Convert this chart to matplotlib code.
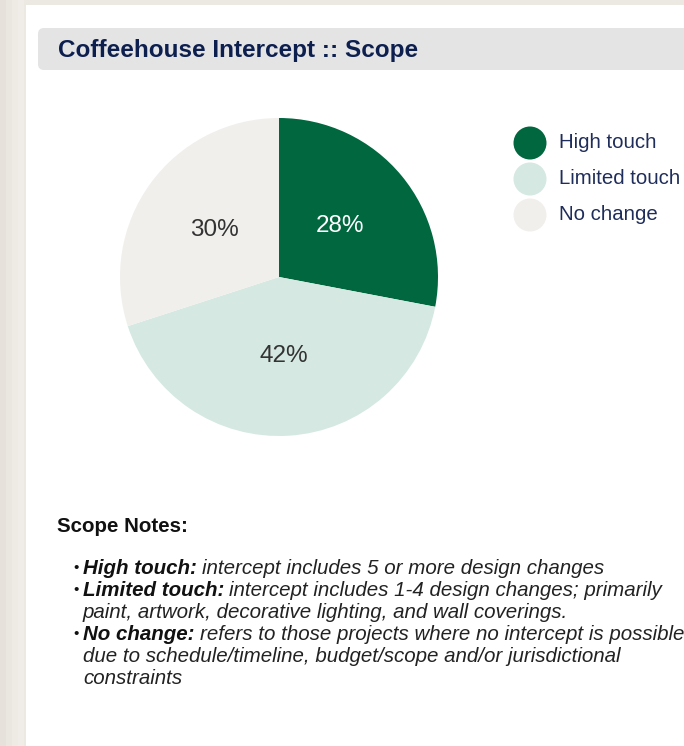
import matplotlib
matplotlib.use('Agg')
import matplotlib.pyplot as plt
from matplotlib.patches import Rectangle, FancyBboxPatch, Circle

plt.rcParams['font.family'] = ['Liberation Sans', 'DejaVu Sans']

# data
categories = ["High touch", "Limited touch", "No change"]
shares = [28, 42, 30]
colors = ["#00673F", "#D5E8E2", "#F1EFEB"]
label_colors = ["white", "#333333", "#333333"]

title = "Coffeehouse Intercept :: Scope"
notes_title = "Scope Notes:"
notes = [
    ("High touch:", ["intercept includes 5 or more design changes"]),
    ("Limited touch:", ["intercept includes 1-4 design changes; primarily",
                        "paint, artwork, decorative lighting, and wall coverings."]),
    ("No change:", ["refers to those projects where no intercept is possible",
                    "due to schedule/timeline, budget/scope and/or jurisdictional",
                    "constraints"]),
]

W, H = 684, 746
fig = plt.figure(figsize=(W / 100, H / 100), dpi=100)
fig.patch.set_facecolor("#ECE8E2")

# background axes in pixel coordinates
bg = fig.add_axes([0, 0, 1, 1])
bg.set_xlim(0, W)
bg.set_ylim(H, 0)
bg.axis('off')

# white panel
bg.add_patch(Rectangle((26, 5), W - 26, H - 5, facecolor="white", edgecolor="none"))
# left shading strip
for i, c in enumerate(["#E6E1DA", "#EAE6E0", "#EEEAE4", "#F0EDE8"]):
    bg.add_patch(Rectangle((i * 6, 0), 6, H, facecolor=c, edgecolor="none"))

# title bar
bg.add_patch(FancyBboxPatch((38, 28), W, 42, boxstyle="round,pad=0,rounding_size=6",
                            facecolor="#E4E4E4", edgecolor="none"))
bg.text(58, 50, title, fontsize=17.5, fontweight='bold', color="#0D1F4F",
        ha='left', va='center')

# legend
for i, (cat, col) in enumerate(zip(categories, colors)):
    y = 143 + i * 36
    bg.add_patch(Circle((530, y), 16.5, facecolor=col, edgecolor="none"))
    bg.text(559, y, cat, fontsize=14.7, color="#1F2D5A", ha='left', va='center')

# notes
bg.text(57, 526, notes_title, fontsize=14.8, fontweight='bold', color="#111111",
        ha='left', va='center')
y = 568
for label, lines in notes:
    bg.text(73, y, "\u2022", fontsize=11, color="#111111", ha='left', va='center')
    t = bg.text(83, y, label, fontsize=14.8, fontweight='bold', style='italic',
                color="#111111", ha='left', va='center')
    fig.canvas.draw()
    bb = t.get_window_extent()
    bg.text(bb.x1 + 5, y, lines[0], fontsize=14.8, style='italic',
            color="#222222", ha='left', va='center')
    y += 22
    for ln in lines[1:]:
        bg.text(83, y, ln, fontsize=14.8, style='italic', color="#222222",
                ha='left', va='center')
        y += 22

# pie
cx, cy, r = 279, 277, 159
ax = fig.add_axes([(cx - r) / W, 1 - (cy + r) / H, 2 * r / W, 2 * r / H])
wedges, texts, autotexts = ax.pie(shares, colors=colors, startangle=90, counterclock=False,
                                  autopct='%d%%', pctdistance=0.5, radius=1,
                                  wedgeprops=dict(linewidth=0))
for at, c in zip(autotexts, label_colors):
    at.set_color(c)
    at.set_fontsize(17.5)
ax.set_xlim(-1, 1)
ax.set_ylim(-1, 1)
ax.set_aspect('equal')

fig.savefig("out.png", dpi=100)
